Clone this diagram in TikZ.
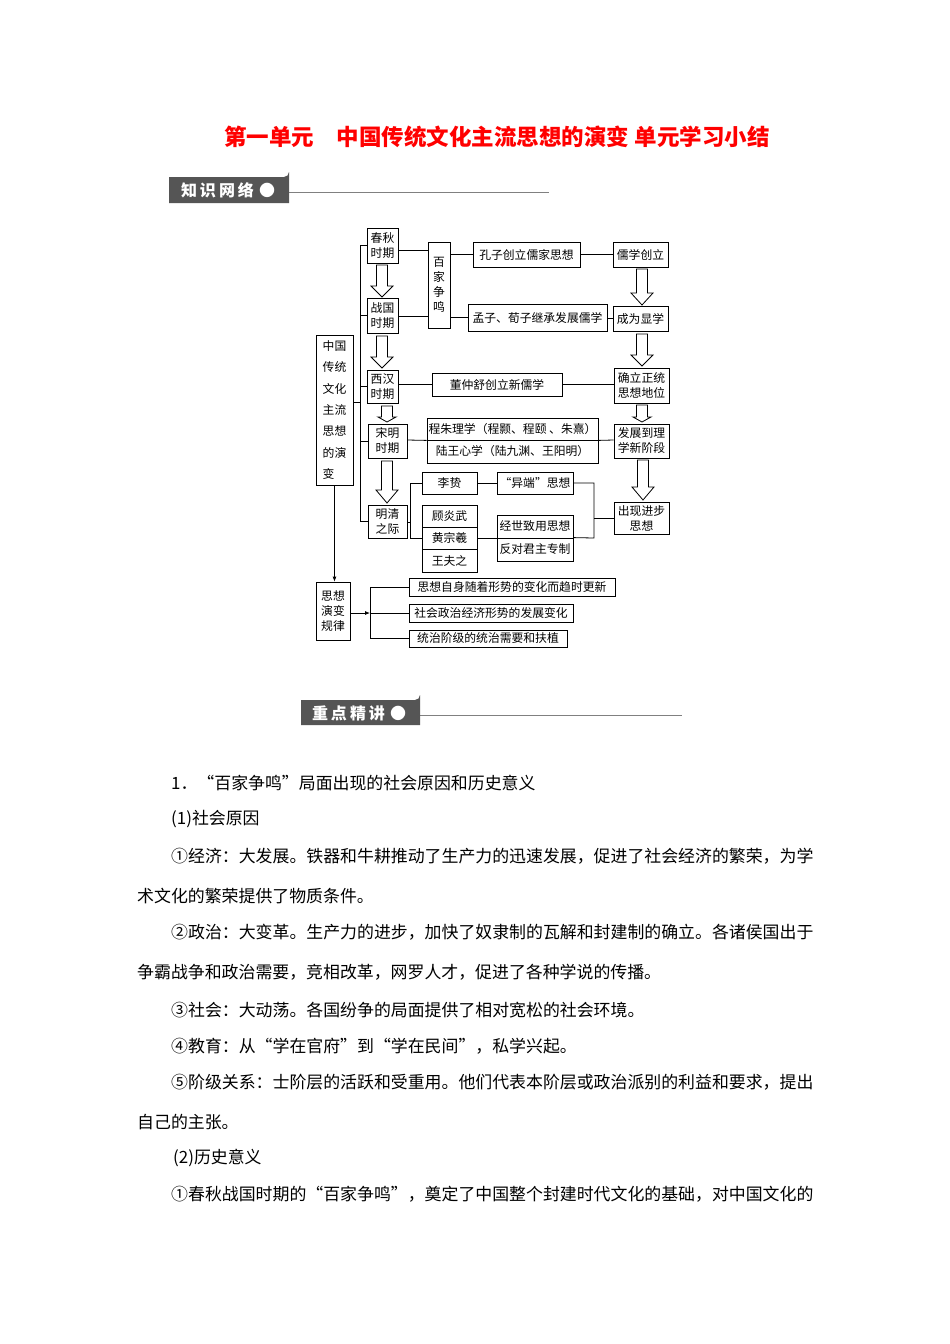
\documentclass[tikz,border=0pt]{standalone}
\usepackage{fontspec}
\setmainfont{Noto Sans CJK SC}
\usetikzlibrary{arrows.meta}
\definecolor{hdr}{HTML}{555555}
\tikzset{
  bx/.style={draw, line width=0.8pt, inner sep=0pt, align=center, font=\fontsize{11.8}{15}\selectfont},
  ln/.style={line width=0.8pt},
  blk/.style={draw, line width=0.8pt, fill=white},
  body/.style={anchor=west, inner sep=0pt, font=\fontsize{16.9}{19}\selectfont},
}
\newcommand{\bx}[6]{\node[bx, minimum width={#4-#2}, minimum height={#5-#3}] (#1) at ({(#2+#4)/2},{(#3+#5)/2}) {#6};}
\newcommand{\barrow}[6]{\draw[blk] ({#1-#4},#2) -- ({#1+#4},#2) -- ({#1+#4},{#3-#6}) -- ({#1+#5},{#3-#6}) -- (#1,#3) -- ({#1-#5},{#3-#6}) -- ({#1-#4},{#3-#6}) -- cycle;}
\begin{document}
\begin{tikzpicture}[x=1pt,y=-1pt]
\useasboundingbox[fill=white] (0,0) rectangle (950,1344);
\node[text=red, font=\fontsize{22.5}{26}\selectfont\bfseries] (title) at (497,137) {第一单元\quad 中国传统文化主流思想的演变 单元学习小结};
\draw[line width=1pt, gray] (289,192) -- (549,192);
\fill[hdr] (169,177) -- (284,177) arc (90:0:5) -- (289,203) -- (169,203) -- cycle;
\node[text=white, font=\fontsize{16}{18}\selectfont\bfseries] (h1) at (228,190) {知\hspace{3pt}识\hspace{3pt}网\hspace{3pt}络\hspace{5pt}●};
\draw[line width=1pt, gray] (420,715) -- (682,715);
\fill[hdr] (301,700) -- (415,700) arc (90:0:5) -- (420,725) -- (301,725) -- cycle;
\node[text=white, font=\fontsize{16}{18}\selectfont\bfseries] (h2) at (359,713) {重\hspace{3pt}点\hspace{3pt}精\hspace{3pt}讲\hspace{5pt}●};

\bx{cq}{367}{228}{398}{263}{春秋\\时期}
\bx{zg}{367}{298}{398}{333}{战国\\时期}
\bx{xh}{367}{370}{398}{403}{西汉\\时期}
\bx{sm}{368}{424}{407}{458}{宋明\\时期}
\bx{mq}{368}{505}{407}{538}{明清\\之际}
\bx{bj}{428}{242}{450}{328}{\fontsize{11.8}{13}\selectfont 百\\家\\争\\鸣}
\bx{kz}{473}{242}{580}{267}{孔子创立儒家思想}
\bx{rx}{613}{242}{668}{267}{儒学创立}
\bx{mz}{468}{304}{607}{331}{孟子、荀子继承发展儒学}
\bx{xx}{613}{306}{668}{331}{成为显学}
\bx{dz}{432}{373}{562}{396}{董仲舒创立新儒学}
\bx{ql}{614}{368}{669}{403}{确立正统\\思想地位}
\bx{cz}{427}{418}{598}{440}{程朱理学（程颢、程颐 、朱熹）}
\bx{lw}{427}{440}{598}{463}{陆王心学（陆九渊、王阳明）}
\bx{fz}{614}{424}{669}{458}{发展到理\\学新阶段}
\bx{lz}{422}{472}{477}{494}{李贽}
\bx{yd}{497}{472}{573}{494}{“异端”思想}
\bx{cx}{614}{502}{669}{534}{出现进步\\思想}
\bx{gy}{422}{505}{477}{527}{顾炎武}
\bx{hz}{422}{527}{477}{549}{黄宗羲}
\bx{wf}{422}{549}{477}{572}{王夫之}
\bx{js}{497}{515}{573}{538}{经世致用思想}
\bx{fd}{497}{538}{573}{561}{反对君主专制}
\node[bx, minimum width=37pt, minimum height=150pt, align=left, font=\fontsize{11.8}{21.3}\selectfont] (zgc) at (334.5,410) {中国\\传统\\文化\\主流\\思想\\的演\\变};
\bx{gl}{316}{582}{350}{640}{思想\\演变\\规律}
\bx{r1}{409}{578}{615}{596}{思想自身随着形势的变化而趋时更新}
\bx{r2}{409}{604}{573}{622}{社会政治经济形势的发展变化}
\bx{r3}{409}{630}{567}{647}{统治阶级的统治需要和扶植}

\coordinate (sp) at (360,0);
\draw[ln] (cq.west -| sp) -- (mq.west -| sp);
\foreach \n in {cq,zg,xh,sm,mq} \draw[ln] (\n.west) -- (\n.west -| sp);
\draw[ln] (zgc.east |- 0,402) -- (sp |- 0,402);
\draw[ln] (cq.east |- 0,250) -- (bj.west |- 0,250);
\draw[ln] (bj.east |- kz.west) -- (kz.west);
\draw[ln] (kz.east) -- (rx.west);
\draw[ln] (zg.east |- 0,316) -- (bj.west |- 0,316);
\draw[ln] (bj.east |- 0,317) -- (mz.west |- 0,317);
\draw[ln] (mz.east |- 0,318) -- (xx.west |- 0,318);
\draw[ln] (xh.east |- 0,384) -- (dz.west |- 0,384);
\draw[ln] (dz.east |- 0,384) -- (ql.west |- 0,384);
\draw[ln] (sm.east |- 0,440) -- (cz.south west);
\draw[ln] (cz.south east) -- (fz.west |- 0,440);
\coordinate (bl) at (410,0);
\draw[ln] (mq.east |- 0,522) -- (bl |- 0,522);
\draw[ln] (lz.west) -- (bl |- lz.west) -- (bl |- hz.west) -- (hz.west);
\draw[ln] (lz.east) -- (yd.west);
\draw[ln] (hz.east) -- (hz.east -| js.west);
\coordinate (br) at (594,0);
\draw[ln] (yd.east) -- (br |- yd.east) -- (br |- 0,538) -- (fd.north east);
\draw[ln] (br |- cx.west) -- (cx.west);
\draw[ln, -{Latex[length=5pt,width=4pt]}] (zgc.south) -- (gl.north -| zgc.south);
\coordinate (lb) at (370,0);
\draw[ln, -{Latex[length=5pt,width=4pt]}] (gl.east |- 0,613) -- (lb |- 0,613);
\draw[ln] (r1.west) -- (lb |- r1.west) -- (lb |- r3.west) -- (r3.west);
\draw[ln] (lb |- r2.west) -- (r2.west);
\barrow{382}{265}{297}{5.5}{11}{11}
\barrow{382}{336}{368}{5.5}{11}{11}
\barrow{387}{406}{422}{5.5}{9}{5}
\barrow{387}{461}{503}{5.5}{11}{13}
\barrow{642}{269}{305}{5.5}{11}{12}
\barrow{642}{334}{366}{5.5}{11}{11}
\barrow{642}{405}{422}{5.5}{9}{5}
\barrow{643}{460}{500}{5.5}{11}{13}

\node[body] (t1) at (171,783) {1．“百家争鸣”局面出现的社会原因和历史意义};
\node[body] (t2) at (171,819) {(1)社会原因};
\node[body] (t3) at (171,856) {①经济：大发展。铁器和牛耕推动了生产力的迅速发展，促进了社会经济的繁荣，为学};
\node[body] (t4) at (137,896) {术文化的繁荣提供了物质条件。};
\node[body] (t5) at (171,932) {②政治：大变革。生产力的进步，加快了奴隶制的瓦解和封建制的确立。各诸侯国出于};
\node[body] (t6) at (137,972) {争霸战争和政治需要，竞相改革，网罗人才，促进了各种学说的传播。};
\node[body] (t7) at (171,1010) {③社会：大动荡。各国纷争的局面提供了相对宽松的社会环境。};
\node[body] (t8) at (171,1046) {④教育：从“学在官府”到“学在民间”，私学兴起。};
\node[body] (t9) at (171,1082) {⑤阶级关系：士阶层的活跃和受重用。他们代表本阶层或政治派别的利益和要求，提出};
\node[body] (t10) at (137,1122) {自己的主张。};
\node[body] (t11) at (173,1158) {(2)历史意义};
\node[body] (t12) at (171,1194) {①春秋战国时期的“百家争鸣”，奠定了中国整个封建时代文化的基础，对中国文化的};
\end{tikzpicture}
\end{document}
